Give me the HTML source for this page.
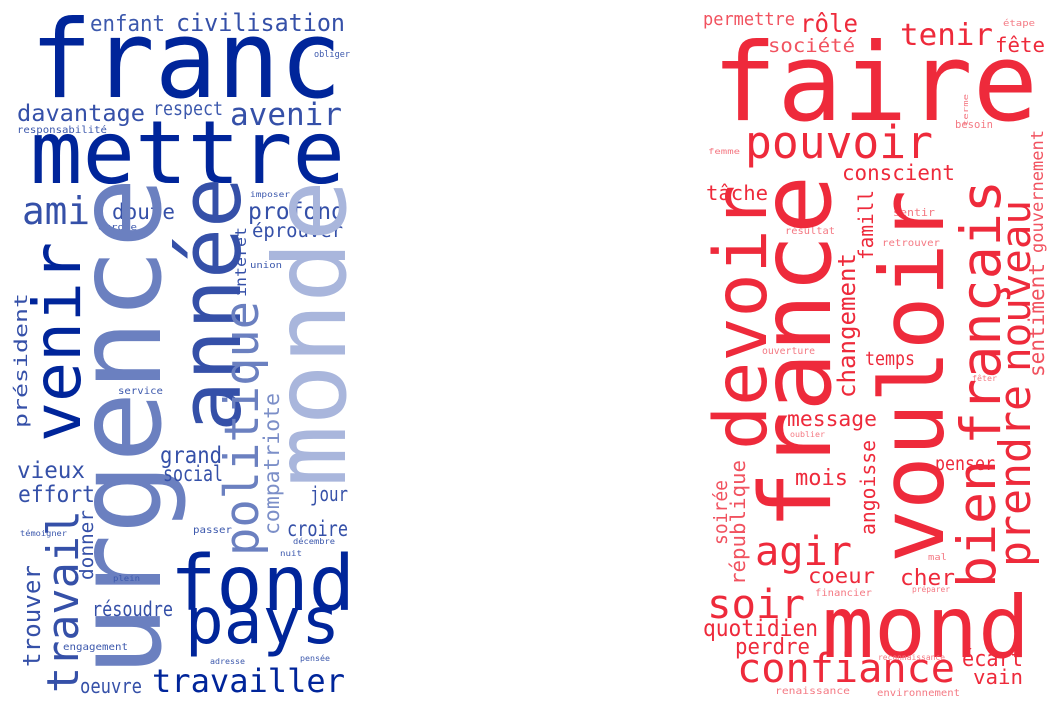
<!DOCTYPE html>
<html><head><meta charset="utf-8"><style>
html,body{margin:0;padding:0;background:#fff;width:1060px;height:713px;overflow:hidden}
svg text{font-family:"DejaVu Sans Mono","Liberation Mono",monospace}
</style></head><body>
<svg width="1060" height="713" viewBox="0 0 1060 713">
<g id="left"></g>
<g id="right"></g>
</svg>
<script>
// [word, x, y, fontSize, length, color, vertical]
const D='#00259a', M='#3550a8', U='#6b80c0', L='#a9b6dc', S='#3d59ad';
const leftWords=[
['franc',30,97,108,312,D,0],['enfant',90,31,22,75,S,0],['civilisation',176,31,24,169,M,0],['obliger',314,57,9,36,S,0],
['davantage',17,121,23,128,M,0],['respect',153,115,19,70,S,0],['avenir',230,125,31,112,M,0],['responsabilité',17,133,10,90,S,0],
['mettre',30,183,87,315,D,0],['ami',22,224,38,68,M,0],['doute',112,219,21,63,M,0],['profond',248,219,23,97,M,0],
['éprouver',252,237,19,91,M,0],['imposer',250,197,8,40,S,0],['europe',98,230,9,39,S,0],['union',250,268,9,32,S,0],
['intérêt',246,297,15,70,M,1],['venir',80,442,66,200,D,1],['urgence',160,677,118,500,U,1],['année',240,432,85,255,'#3550a8',1],
['monde',345,487,100,307,L,1],['politique',258,556,47,255,U,1],['compatriote',279,535,21,142,'#7c8fc8',1],['président',27,428,18,135,M,1],
['service',118,394,10,45,S,0],['grand',160,463,23,62,M,0],['social',163,481,21,60,M,0],['vieux',17,478,23,68,M,0],
['effort',18,502,23,77,M,0],['jour',310,501,20,38,M,0],['travail',78,693,44,183,M,1],['donner',93,580,19,70,M,1],
['trouver',40,667,24,102,M,1],['témoigner',20,536,8,47,S,0],['passer',193,533,10,39,S,0],['croire',287,536,21,61,M,0],
['décembre',293,544,8,42,S,0],['nuit',280,556,8,22,S,0],['plein',113,581,8,27,S,0],['fond',170,610,77,185,D,0],
['résoudre',92,616,20,81,M,0],['pays',185,643,64,155,D,0],['engagement',63,650,10,65,S,0],['adresse',210,664,8,35,S,0],
['pensée',300,661,8,30,S,0],['travailler',152,692,32,193,D,0],['oeuvre',80,693,20,62,M,0]
];
const R='#ee2a3b', r2='#f1525f', r3='#f47a84';
const rightWords=[
['permettre',703,25,18,92,r2,0],['rôle',800,32,25,58,R,0],['tenir',900,45,30,93,R,0],['étape',1003,26,9,32,r3,0],
['société',768,52,19,87,r2,0],['fête',995,52,20,50,R,0],['faire',712,120,108,326,R,0],['terme',968,126,7,32,r3,1],
['besoin',955,128,11,38,r3,0],['femme',708,154,8,32,r3,0],['pouvoir',745,158,45,188,R,0],['conscient',842,180,21,113,R,0],
['gouvernement',1043,253,17,123,r2,1],['sentiment',1044,377,21,114,r2,1],['tâche',706,200,20,62,R,0],['famill',873,260,20,70,R,1],
['sentir',893,216,11,42,r3,0],['résultat',785,234,10,50,r3,0],['retrouver',882,246,10,58,r3,0],['devoir',766,450,73,265,R,1],
['france',830,530,98,355,R,1],['vouloir',943,563,88,373,R,1],['français',1000,445,55,265,R,1],['nouveau',1030,372,40,172,R,1],
['prendre',1030,567,44,182,R,1],['bien',995,588,53,128,R,1],['changement',855,398,24,145,R,1],['ouverture',762,354,10,53,r3,0],
['temps',865,365,19,50,R,0],['fêter',972,381,8,25,r3,0],['message',787,426,21,90,R,0],['oublier',790,437,8,35,r3,0],
['angoisse',875,535,20,95,R,1],['penser',935,470,19,60,R,0],['mois',795,485,22,53,R,0],['soirée',727,545,19,65,r2,1],
['république',745,585,20,125,r2,1],['agir',755,565,40,97,R,0],['mal',928,560,9,19,r3,0],['coeur',808,583,21,67,R,0],
['cher',900,585,22,55,R,0],['financier',815,596,10,57,r3,0],['préparer',912,592,8,38,r3,0],['soir',707,618,40,98,R,0],
['mond',822,657,86,208,R,0],['quotidien',703,636,23,115,R,0],['perdre',735,654,22,75,R,0],['reconnaissance',878,660,8,67,r3,0],
['écart',962,666,22,61,R,0],['confiance',737,682,40,218,R,0],['vain',973,684,20,50,R,0],['renaissance',775,694,10,75,r3,0],
['environnement',877,696,10,83,r3,0]
];
const NS='http://www.w3.org/2000/svg';
function draw(list,gid,prefix){
  const g=document.getElementById(gid);
  list.forEach(w=>{
    const t=document.createElementNS(NS,'text');
    t.textContent=w[0];
    t.setAttribute('font-size',w[3]);
    t.setAttribute('fill',w[5]);
    t.setAttribute('textLength',w[4]);
    t.setAttribute('lengthAdjust','spacingAndGlyphs');
    if(w[6]){t.setAttribute('x',0);t.setAttribute('y',0);t.setAttribute('transform','translate('+w[1]+','+w[2]+') rotate(-90)');}
    else{t.setAttribute('x',w[1]);t.setAttribute('y',w[2]);}
    
    
    g.appendChild(t);
  });
}
draw(leftWords,'left','left');
draw(rightWords,'right','right');
</script>
</body></html>
